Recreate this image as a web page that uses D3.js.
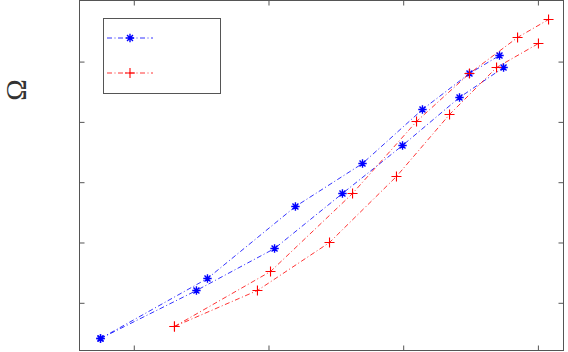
<!DOCTYPE html>
<html lang="en">
<head>
  <meta charset="UTF-8">
  <title>Omega curves</title>
  <script src="https://d3js.org/d3.v7.min.js"></script>
  <style>
    body { margin: 0; background: #fff; overflow: hidden; }
    svg { display: block; background: #fff; }
  </style>
</head>
<body>
  <svg width="568" height="352"></svg>
  <script>
  // Values (x in tick units, y in tick units)
  const blueUpperX = [0.753, 1.547, 2.200, 2.698, 3.143, 3.492, 3.715];
  const blueUpperY = [0.408, 1.403, 2.597, 3.310, 4.206, 4.803, 5.101];
  const blueLowerX = [0.753, 1.465, 2.045, 2.549, 2.995, 3.418, 3.745];
  const blueLowerY = [0.408, 1.204, 1.900, 2.813, 3.609, 4.405, 4.902];
  const redUpperX  = [1.302, 2.015, 2.624, 3.099, 3.492, 3.849, 4.079];
  const redUpperY  = [0.607, 1.519, 2.813, 4.007, 4.803, 5.400, 5.698];
  const redLowerX  = [1.302, 1.918, 2.453, 2.950, 3.344, 3.693, 4.004];
  const redLowerY  = [0.607, 1.204, 2.000, 3.095, 4.123, 4.902, 5.300];

  const xTicks = [1, 2, 3, 4];
  const yTicks = [1, 2, 3, 4, 5];
  const xDomain = [0.597, 4.190];
  const yDomain = [0.209, 6.013];

  const svg = d3.select("svg");
  const axLeft = 79.5, axRight = 563.5, axTop = 0.5, axBottom = 350.5;

  const x = d3.scaleLinear().domain(xDomain).range([axLeft, axRight]);
  const y = d3.scaleLinear().domain(yDomain).range([axBottom, axTop]);

  const axisColor = "#555";

  // ticks on all four sides, pointing inward, no labels
  const gx = svg.append("g").attr("transform", `translate(0,${axBottom})`)
    .call(d3.axisBottom(x).tickValues(xTicks).tickSize(-5).tickFormat(""));
  const gxt = svg.append("g").attr("transform", `translate(0,${axTop})`)
    .call(d3.axisTop(x).tickValues(xTicks).tickSize(-5).tickFormat(""));
  const gy = svg.append("g").attr("transform", `translate(${axLeft},0)`)
    .call(d3.axisLeft(y).tickValues(yTicks).tickSize(-5).tickFormat(""));
  const gyr = svg.append("g").attr("transform", `translate(${axRight},0)`)
    .call(d3.axisRight(y).tickValues(yTicks).tickSize(-5).tickFormat(""));
  [gx, gxt, gy, gyr].forEach(g => {
    g.select(".domain").remove();
    g.selectAll("line").attr("stroke", axisColor).attr("stroke-width", 1);
  });

  svg.append("rect")
    .attr("x", axLeft).attr("y", axTop)
    .attr("width", axRight - axLeft).attr("height", axBottom - axTop)
    .attr("fill", "none").attr("stroke", axisColor).attr("stroke-width", 1);

  const line = d3.line().x(d => x(d[0])).y(d => y(d[1]));
  const dashDot = "5,2.5,1,2.5";

  function asterisk(g, cx, cy, color) {
    const r = 4.2;
    const d = r * 0.7071;
    const p = `M${cx - r},${cy}L${cx + r},${cy}M${cx},${cy - r}L${cx},${cy + r}` +
              `M${cx - d},${cy - d}L${cx + d},${cy + d}M${cx - d},${cy + d}L${cx + d},${cy - d}`;
    g.append("path").attr("d", p).attr("stroke", color).attr("stroke-width", 1.4).attr("fill", "none");
  }
  function plus(g, cx, cy, color) {
    const r = 5;
    const p = `M${cx - r},${cy}L${cx + r},${cy}M${cx},${cy - r}L${cx},${cy + r}`;
    g.append("path").attr("d", p).attr("stroke", color).attr("stroke-width", 1.1).attr("fill", "none");
  }

  const series = [
    { xs: blueUpperX, ys: blueUpperY, color: "#0000ff", marker: asterisk },
    { xs: blueLowerX, ys: blueLowerY, color: "#0000ff", marker: asterisk },
    { xs: redUpperX,  ys: redUpperY,  color: "#ff0000", marker: plus },
    { xs: redLowerX,  ys: redLowerY,  color: "#ff0000", marker: plus }
  ];

  const plotG = svg.append("g");
  series.forEach(s => {
    const pts = s.xs.map((v, i) => [v, s.ys[i]]);
    plotG.append("path")
      .attr("d", line(pts))
      .attr("fill", "none")
      .attr("stroke", s.color)
      .attr("stroke-width", 0.8)
      .attr("stroke-dasharray", dashDot);
    pts.forEach(p => s.marker(plotG, x(p[0]), y(p[1]), s.color));
  });

  // legend (entries have no text)
  const lg = svg.append("g");
  lg.append("rect")
    .attr("x", 103.5).attr("y", 18.5).attr("width", 117).attr("height", 75)
    .attr("fill", "#fff").attr("stroke", axisColor).attr("stroke-width", 1);
  [{ yy: 38, color: "#0000ff", marker: asterisk }, { yy: 73, color: "#ff0000", marker: plus }]
    .forEach(e => {
      lg.append("line")
        .attr("x1", 107).attr("x2", 153).attr("y1", e.yy).attr("y2", e.yy)
        .attr("stroke", e.color).attr("stroke-width", 0.8)
        .attr("stroke-dasharray", dashDot);
      e.marker(lg, 130, e.yy, e.color);
    });

  // y label
  svg.append("text")
    .attr("transform", "translate(26,90) rotate(-90)")
    .attr("text-anchor", "middle")
    .attr("font-family", "'Liberation Serif', 'DejaVu Serif', serif")
    .attr("font-size", 29)
    .attr("fill", "#333")
    .text("Ω");
  </script>
</body>
</html>
